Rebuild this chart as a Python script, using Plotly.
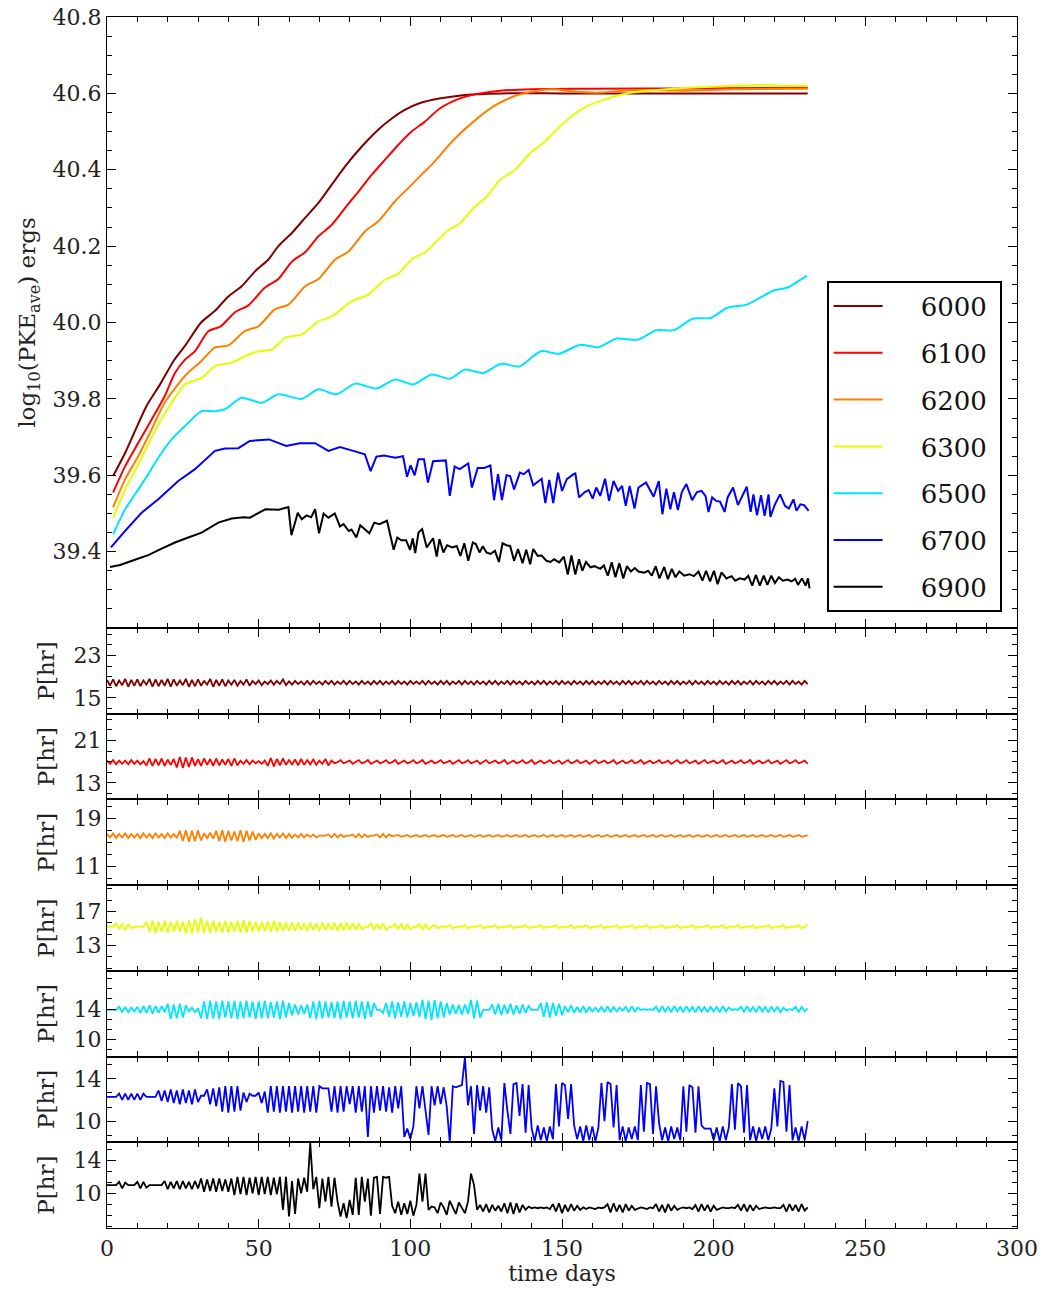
import plotly.graph_objects as go
from plotly.subplots import make_subplots

# ---------------- data ----------------
names = ["6000", "6100", "6200", "6300", "6500", "6700", "6900"]
colors = ["#800000", "#ff0000", "#ff8000", "#e2ff00", "#00e5ff", "#0000ff", "#000000"]

# top panel: log10(PKE_ave) [ergs] vs time [days]
t_6000 = [2, 6, 9, 13, 17.5, 22, 26, 31, 35.5, 40, 44.4, 48.8, 53.2, 56.5, 61, 65.3, 69.7, 74.1,
          78.5, 84, 89.4, 94, 98, 103, 110, 118, 130, 150, 180, 210, 231]
pke_6000 = [39.598, 39.659, 39.712, 39.781, 39.838, 39.900, 39.942, 40.000, 40.030, 40.068, 40.095,
            40.134, 40.165, 40.200, 40.235, 40.274, 40.313, 40.361, 40.409, 40.461, 40.505, 40.535,
            40.556, 40.574, 40.587, 40.596, 40.600, 40.600, 40.600, 40.600, 40.600]

t_6100 = [2, 6, 10.3, 14.7, 19, 22.4, 25.7, 29, 33.4, 37.5, 42.2, 46.6, 52, 56.5, 61, 65.3, 69.7,
          74.1, 78.5, 82.9, 87.3, 91.6, 96, 100.4, 104.8, 109.8, 116.4, 123, 129.6, 140, 160, 190, 231]
pke_6100 = [39.555, 39.624, 39.685, 39.746, 39.807, 39.868, 39.903, 39.925, 39.977, 39.990, 40.027,
            40.045, 40.091, 40.114, 40.160, 40.184, 40.226, 40.256, 40.300, 40.343, 40.387, 40.426,
            40.465, 40.500, 40.526, 40.561, 40.587, 40.600, 40.607, 40.611, 40.612, 40.613, 40.615]

t_6200 = [2, 6, 10.3, 14.7, 19, 25.7, 31.2, 35.6, 40, 45.5, 49.9, 55.4, 59.8, 65.3, 69.7, 75.2, 79.6,
          85.1, 89.4, 94.9, 99.3, 104.8, 107.6, 114.2, 120.8, 127.4, 134, 140.5, 147, 153.7, 162.5,
          173.5, 190, 206.5, 231]
pke_6200 = [39.516, 39.590, 39.650, 39.720, 39.790, 39.860, 39.900, 39.935, 39.940, 39.978, 39.990,
            40.035, 40.047, 40.095, 40.114, 40.165, 40.186, 40.239, 40.265, 40.317, 40.352, 40.396,
            40.418, 40.478, 40.526, 40.566, 40.592, 40.605, 40.611, 40.605, 40.602, 40.609, 40.607,
            40.611, 40.612]

t_6300 = [2, 6, 10.3, 16.9, 21.3, 25.7, 31.2, 35.6, 41.1, 45.5, 49.9, 54.3, 58.7, 64.2, 69.7, 74.1,
          80.7, 86.1, 91.6, 96, 100.4, 104.8, 106.5, 112, 116.4, 120.8, 125.2, 129.6, 134.5, 139.5,
          143.8, 149.3, 153.7, 158.1, 163.6, 169.1, 175.7, 184.5, 195.5, 206.5, 217.5, 224, 231]
pke_6300 = [39.489, 39.563, 39.629, 39.733, 39.790, 39.838, 39.855, 39.886, 39.895, 39.912, 39.925,
            39.929, 39.960, 39.969, 40.003, 40.016, 40.056, 40.073, 40.112, 40.128, 40.165, 40.184,
            40.195, 40.239, 40.260, 40.300, 40.330, 40.374, 40.400, 40.444, 40.470, 40.513, 40.544,
            40.566, 40.583, 40.596, 40.605, 40.611, 40.616, 40.620, 40.622, 40.620, 40.620]

t_6500 = [2, 6, 10.3, 13.6, 16.9, 21.3, 25.7, 31.2, 35.6, 38.9, 44.4, 51, 56.5, 64.2, 69.7, 75.7,
          81.8, 88.9, 94.9, 101, 107, 113.1, 118, 124, 130, 136, 143, 149, 156, 162, 168, 175, 181,
          187, 193, 199, 204.3, 210.9, 215.3, 219.7, 224.1, 230.7]
pke_6500 = [39.446, 39.511, 39.563, 39.603, 39.646, 39.694, 39.729, 39.768, 39.768, 39.773, 39.803,
            39.790, 39.812, 39.800, 39.825, 39.812, 39.840, 39.827, 39.851, 39.838, 39.864, 39.853,
            39.877, 39.868, 39.892, 39.885, 39.925, 39.918, 39.942, 39.935, 39.958, 39.955, 39.980,
            39.980, 40.010, 40.012, 40.038, 40.047, 40.065, 40.084, 40.091, 40.123]

t_6700 = [1.3, 5.9, 11.4, 16.9, 23.5, 29.0, 35.6, 38.9, 43.3,
          47.1, 53.4, 59.1, 63.5, 68.6, 73.0, 76.8, 81.2, 85.0, 86.9,
          88.8, 91.3, 95.1, 97.6, 98.9, 100.1, 101.4, 102.7, 104.5, 105.8,
          107.5, 111.7, 113.0, 114.6, 116.3, 119.1, 120.3, 122.2, 124.4, 126.4,
          127.6, 128.9, 130.2, 131.7, 132.9, 134.2, 136.1, 137.4, 139.0, 140.5,
          141.8, 143.3, 144.5, 145.8, 147.1, 148.7, 150.0, 151.6, 153.8, 154.4,
          155.6, 157.5, 158.8, 160.1, 161.3, 162.6, 164.2, 165.5, 167.0, 168.5,
          169.8, 171.0, 172.3, 173.9, 175.2, 177.7, 180.2, 181.9, 183.1, 184.4,
          185.7, 186.9, 188.2, 189.5, 191.0, 192.9, 194.5, 196.0, 197.3, 198.3,
          199.5, 200.8, 202.1, 203.6, 204.6, 206.4, 208.0, 210.9, 212.2, 213.1,
          214.3, 215.6, 216.8, 218.1, 218.7, 220.2, 221.9, 223.5, 224.8, 226.3,
          227.3, 228.6, 229.8, 231.3]
pke_6700 = [39.411, 39.454, 39.502, 39.537, 39.585, 39.616, 39.664, 39.670, 39.671,
            39.690, 39.694, 39.677, 39.684, 39.684, 39.664, 39.674, 39.664, 39.655, 39.611,
            39.649, 39.652, 39.646, 39.650, 39.596, 39.626, 39.600, 39.642, 39.642, 39.581,
            39.637, 39.639, 39.546, 39.623, 39.616, 39.631, 39.568, 39.619, 39.619, 39.626,
            39.535, 39.603, 39.535, 39.600, 39.598, 39.563, 39.607, 39.603, 39.614, 39.574,
            39.583, 39.591, 39.527, 39.588, 39.527, 39.607, 39.559, 39.590, 39.603, 39.605,
            39.542, 39.556, 39.561, 39.539, 39.568, 39.546, 39.591, 39.533, 39.585, 39.559,
            39.572, 39.520, 39.572, 39.513, 39.568, 39.581, 39.544, 39.585, 39.498, 39.565,
            39.511, 39.556, 39.509, 39.556, 39.577, 39.535, 39.556, 39.559, 39.546, 39.504,
            39.542, 39.533, 39.531, 39.504, 39.542, 39.568, 39.522, 39.570, 39.504, 39.550,
            39.495, 39.548, 39.494, 39.550, 39.491, 39.524, 39.550, 39.520, 39.513, 39.537,
            39.507, 39.524, 39.522, 39.507]

t_6900 = [1.0, 4.3, 9.2, 13.6, 18.0, 22.4, 26.8, 31.2, 36.7, 41.1, 45.0,
          47.1, 52.2, 56.6, 59.8, 60.8, 62.9, 64.2, 65.8, 67.3, 68.6,
          69.9, 71.4, 73.0, 75.1, 76.8, 78.0, 79.7, 80.6, 82.2, 83.5,
          85.0, 86.5, 88.1, 89.8, 92.3, 94.5, 95.7, 97.0, 98.6, 99.9,
          100.8, 101.6, 102.7, 103.9, 105.4, 107.5, 108.7, 109.6, 110.9, 112.1,
          113.8, 115.3, 116.5, 117.8, 119.1, 120.6, 121.6, 122.8, 123.9, 125.1,
          126.4, 127.9, 129.2, 130.4, 131.7, 132.9, 134.2, 135.5, 137.0, 138.2,
          139.5, 140.5, 142.0, 143.3, 144.9, 146.2, 147.4, 149.1, 150.6, 151.9,
          153.1, 154.4, 155.6, 156.7, 157.9, 159.4, 160.7, 162.6, 163.8, 165.1,
          166.4, 167.6, 168.9, 170.2, 171.4, 172.7, 174.0, 175.2, 177.1, 178.4,
          179.6, 180.9, 182.1, 183.7, 184.9, 186.2, 187.4, 188.7, 190.3, 192.0,
          193.5, 195.0, 196.3, 197.5, 198.8, 200.1, 201.3, 202.6, 204.2, 205.9,
          207.1, 208.6, 210.2, 211.4, 212.7, 213.9, 215.2, 216.5, 217.7, 219.0,
          220.2, 221.5, 222.8, 224.4, 225.7, 226.9, 227.8, 229.1, 230.3, 231.1,
          231.6]
pke_6900 = [39.360, 39.365, 39.379, 39.391, 39.408, 39.424, 39.437, 39.450, 39.476, 39.487, 39.490,
            39.489, 39.511, 39.510, 39.517, 39.443, 39.502, 39.485, 39.495, 39.490, 39.511,
            39.448, 39.500, 39.489, 39.500, 39.466, 39.472, 39.454, 39.458, 39.437, 39.469,
            39.458, 39.448, 39.476, 39.472, 39.481, 39.405, 39.437, 39.430, 39.430, 39.405,
            39.435, 39.396, 39.450, 39.459, 39.411, 39.435, 39.387, 39.433, 39.398, 39.417,
            39.411, 39.415, 39.389, 39.422, 39.376, 39.424, 39.420, 39.398, 39.414, 39.398,
            39.394, 39.402, 39.373, 39.422, 39.417, 39.415, 39.376, 39.407, 39.370, 39.405,
            39.367, 39.407, 39.389, 39.390, 39.376, 39.373, 39.380, 39.372, 39.387, 39.340,
            39.390, 39.340, 39.380, 39.350, 39.373, 39.359, 39.362, 39.355, 39.364, 39.337,
            39.372, 39.333, 39.370, 39.330, 39.362, 39.348, 39.357, 39.348, 39.345, 39.350,
            39.337, 39.362, 39.330, 39.360, 39.328, 39.355, 39.333, 39.348, 39.337, 39.341,
            39.336, 39.348, 39.324, 39.350, 39.322, 39.350, 39.315, 39.346, 39.330, 39.336,
            39.324, 39.330, 39.327, 39.337, 39.311, 39.339, 39.311, 39.337, 39.313, 39.337,
            39.318, 39.333, 39.324, 39.327, 39.322, 39.329, 39.313, 39.330, 39.311, 39.330,
            39.304]

# lower panels: period P [hr], one sample per day starting at day 0
p_6000 = [18.4, 17.3, 18.5, 17.2, 18.3, 17.4, 18.6, 17.1, 18.4, 17.3, 18.5, 17.2, 18.3, 17.5, 18.6, 17.1, 18.5, 17.2, 18.4, 17.3,
          18.6, 17.1, 18.5, 17.3, 18.3, 17.4, 18.6, 17.1, 18.4, 17.2, 18.5, 17.3, 18.2, 17.5, 18.6, 17.1, 18.4, 17.3, 18.5, 17.2,
          18.3, 17.5, 18.4, 17.3, 18.2, 17.5, 18.5, 17.3, 18.2, 17.6, 18.3, 17.4, 18.1, 17.6, 18.3, 17.5, 18.2, 17.6, 18.5, 17.4, 18.1,
          17.5, 18.2, 17.6, 18.1, 17.5, 18.2, 17.5, 18.2, 17.6, 18.1, 17.5, 18.2, 17.6, 18.2, 17.5, 18.1, 17.6, 18.2, 17.5, 18.2,
          17.6, 18.1, 17.5, 18.2, 17.6, 18.1, 17.5, 18.2, 17.6, 18.2, 17.5, 18.1, 17.6, 18.2, 17.5, 18.2, 17.6, 18.1, 17.5, 18.2,
          17.6, 18.1, 17.6, 18.2, 17.5, 18.2, 17.6, 18.1, 17.5, 18.2, 17.6, 18.2, 17.5, 18.1, 17.6, 18.2, 17.5, 18.2, 17.6, 18.1,
          17.5, 18.2, 17.6, 18.1, 17.5, 18.2, 17.6, 18.2, 17.5, 18.1, 17.6, 18.2, 17.5, 18.2, 17.6, 18.1, 17.5, 18.2, 17.6, 18.1,
          17.5, 18.2, 17.6, 18.2, 17.5, 18.1, 17.6, 18.2, 17.5, 18.2, 17.6, 18.1, 17.5, 18.2, 17.6, 18.1, 17.5, 18.2, 17.6, 18.2,
          17.5, 18.1, 17.6, 18.2, 17.5, 18.2, 17.6, 18.1, 17.5, 18.2, 17.6, 18.2, 17.5, 18.1, 17.6, 18.2, 17.5, 18.2, 17.6, 18.1,
          17.5, 18.2, 17.6, 18.1, 17.5, 18.2, 17.6, 18.2, 17.5, 18.1, 17.6, 18.2, 17.5, 18.2, 17.6, 18.1, 17.5, 18.2, 17.6, 18.1,
          17.5, 18.2, 17.6, 18.1, 17.5, 18.2, 17.6, 18.2, 17.5, 18.1, 17.6, 18.2, 17.5, 18.2, 17.6, 18.1,
          17.5, 18.2, 17.6, 18.2, 17.5, 18.1, 17.6, 18.2, 17.5, 18.2, 17.6, 18.1, 17.5, 18.2, 17.6]

p_6100 = [17.2, 16.6, 17.3, 16.5, 17.2, 16.6, 17.2, 16.5, 17.3, 16.6, 17.2, 16.5, 17.1,
          16.3, 17.6, 16.2, 17.5, 16.3, 17.6, 16.2, 17.4, 16.4, 17.5,
          15.9, 17.9, 15.8, 17.8, 16.0, 17.8, 16.2,
          17.5, 16.2, 17.6, 16.4, 17.5, 16.2, 17.6, 16.3, 17.4, 16.4, 17.5, 16.2, 17.6, 16.3,
          17.2, 16.6, 17.3, 16.5, 17.2, 16.7, 17.1, 16.6, 17.2,
          16.2, 17.7, 16.1, 17.5, 16.3, 17.6,
          16.4, 17.3, 16.5, 17.4, 16.3, 17.5, 16.4, 17.3, 16.5, 17.4, 16.4, 17.2, 16.6, 17.5, 16.3, 17.2, 16.7,
          16.9, 17.3, 16.7, 16.9, 17.2, 16.6, 16.9, 17.3, 16.7, 16.9, 17.3, 16.6, 16.9, 17.2, 16.7, 16.9, 17.3, 16.7,
          16.9, 17.3, 16.6, 16.9, 17.2, 16.7, 16.9, 17.3, 16.7, 16.9, 17.3, 16.6, 16.9, 17.2, 16.7, 16.9, 17.3, 16.7,
          16.9, 17.2, 16.6, 16.9, 17.3, 16.7, 16.9, 17.3, 16.7, 16.9, 17.2, 16.6, 16.9, 17.3, 16.7, 16.9, 17.2, 16.7,
          16.9, 17.3, 16.6, 16.9, 17.2, 16.7, 16.9, 17.3, 16.7, 16.9, 17.3, 16.6, 16.9, 17.2, 16.7, 16.9, 17.3, 16.7,
          16.9, 17.2, 16.6, 16.9, 17.3, 16.7, 16.9, 17.3, 16.7, 16.9, 17.2, 16.6, 16.9, 17.3, 16.7, 16.9, 17.2, 16.7,
          16.9, 17.3, 16.6, 16.9, 17.2, 16.7, 16.9, 17.3, 16.7, 16.9, 17.3, 16.6, 16.9, 17.2, 16.7, 16.9, 17.3, 16.7,
          16.9, 17.2, 16.6, 16.9, 17.3, 16.7, 16.9, 17.3, 16.7, 16.9, 17.2, 16.6, 16.9, 17.3, 16.7, 16.9, 17.2, 16.7,
          16.9, 17.3, 16.6, 16.9, 17.2, 16.7, 16.9, 17.3, 16.7, 16.9, 17.3, 16.6, 16.9, 17.2, 16.7, 16.9, 17.3, 16.7,
          16.9, 17.2, 16.6, 16.9, 17.3, 16.7, 16.9, 17.3, 16.7, 16.9, 17.2, 16.6]

p_6200 = [16.4, 15.8, 16.5, 15.7, 16.4, 15.8, 16.5, 15.7, 16.4, 15.8, 16.4, 15.7, 16.5, 15.8, 16.4, 15.7, 16.5, 15.8, 16.4, 15.7, 16.5, 15.8, 16.4, 15.7,
          16.9, 15.2, 17.0, 15.1, 16.9, 15.2, 17.0, 15.3,
          16.5, 15.7, 16.6, 15.6,
          16.9, 15.2, 17.0, 15.1, 16.9, 15.3, 16.8, 15.2, 17.0, 15.1, 16.9, 15.3, 16.8, 15.4,
          16.5, 15.7, 16.4, 15.7, 16.5, 15.6, 16.4, 15.8, 16.5, 15.7, 16.4, 15.7,
          16.3, 15.8, 16.4, 15.8, 16.3, 15.9, 16.3, 15.8, 16.1, 16.1, 16.1, 16.3, 15.8, 16.4, 15.8, 16.3, 15.9,
          16.1, 16.1, 16.3, 15.8, 16.4, 15.8, 16.3, 15.9, 16.1, 16.1, 16.3, 15.8, 16.4, 15.8, 16.3, 16.0,
          16.1, 16.2, 15.9, 16.1, 16.2, 15.9, 16.1, 16.2, 15.9, 16.1, 16.2, 15.9, 16.1, 16.2, 15.9,
          16.1, 16.2, 15.9, 16.1, 16.2, 15.9, 16.1, 16.2, 15.9, 16.1, 16.2, 15.9, 16.1, 16.2, 15.9,
          16.1, 16.2, 15.9, 16.1, 16.2, 15.9, 16.1, 16.2, 15.9, 16.1, 16.2, 15.9, 16.1, 16.2, 15.9,
          16.1, 16.2, 15.9, 16.1, 16.2, 15.9, 16.1, 16.2, 15.9, 16.1, 16.2, 15.9, 16.1, 16.2, 15.9,
          16.1, 16.2, 15.9, 16.1, 16.2, 15.9, 16.1, 16.2, 15.9, 16.1, 16.2, 15.9, 16.1, 16.2, 15.9,
          16.1, 16.2, 15.9, 16.1, 16.2, 15.9, 16.1, 16.2, 15.9, 16.1, 16.2, 15.9, 16.1, 16.2, 15.9,
          16.1, 16.2, 15.9, 16.1, 16.2, 15.9, 16.1, 16.2, 15.9, 16.1, 16.2, 15.9, 16.1, 16.2, 15.9,
          16.1, 16.2, 15.9, 16.1, 16.2, 15.9, 16.1, 16.2, 15.9, 16.1, 16.2, 15.9, 16.1, 16.2, 15.9,
          16.1, 16.2, 15.9, 16.1, 16.2, 15.9, 16.1, 16.2, 15.9, 16.1, 16.2, 15.9, 16.1, 16.2, 15.9,
          16.1, 16.2]

p_6300 = [15.2, 15.2, 15.2,
          15.6, 14.9, 15.6, 14.8, 15.5, 15.0,
          15.2, 15.2, 15.2, 15.2,
          15.8, 14.6, 15.9, 14.5, 15.8, 14.6, 15.9, 14.5, 15.8, 14.6, 15.9, 14.6, 15.8,
          14.4, 16.0, 14.4, 16.1, 14.5, 16.3,
          14.5, 15.9, 14.5, 15.9, 14.6, 15.8, 14.5, 15.9, 14.5, 15.8, 14.6, 15.9, 14.5, 16.0, 14.5, 15.9, 14.6,
          15.8, 14.6, 15.8, 14.7, 15.8, 14.6, 15.9, 14.6, 15.8, 14.7, 15.7, 14.7,
          15.7, 14.7, 15.7, 14.8, 15.6, 14.7, 15.7, 14.8, 15.6, 14.7, 15.7, 14.8, 15.6, 14.8, 15.7, 14.7, 15.6, 14.8, 15.7, 14.8,
          15.6, 14.8, 15.6, 14.9, 15.2, 15.2, 15.6, 14.8, 15.5, 14.9, 15.6, 14.8, 15.2, 15.2, 15.5, 14.9, 15.6, 14.8, 15.5, 14.9,
          15.2, 15.2, 15.5, 14.9, 15.5, 14.9,
          15.2, 15.4, 15.0, 15.2, 15.2, 15.2, 15.4, 15.0, 15.2, 15.2, 15.2, 15.4, 15.0, 15.2, 15.2, 15.2, 15.4, 15.0, 15.2, 15.2,
          15.2, 15.4, 15.0, 15.2, 15.2, 15.2, 15.4, 15.0, 15.2, 15.2, 15.2, 15.4, 15.0, 15.2, 15.2, 15.2, 15.4, 15.0, 15.2, 15.2,
          15.2, 15.4, 15.0, 15.2, 15.2, 15.2, 15.4, 15.0, 15.2, 15.2, 15.2, 15.4, 15.0, 15.2, 15.2, 15.2, 15.4, 15.0, 15.2, 15.2,
          15.2, 15.4, 15.0, 15.2, 15.2, 15.2, 15.4, 15.0, 15.2, 15.2, 15.2, 15.4, 15.0, 15.2, 15.2, 15.2, 15.4, 15.0, 15.2, 15.2,
          15.2, 15.4, 15.0, 15.2, 15.2, 15.2, 15.4, 15.0, 15.2, 15.2, 15.2, 15.4, 15.0, 15.2, 15.2, 15.2, 15.4, 15.0, 15.2, 15.2,
          15.2, 15.4, 15.0, 15.2, 15.2, 15.2, 15.4, 15.0, 15.2, 15.2, 15.2, 15.4, 15.0, 15.2, 15.2, 15.2, 15.4, 15.0, 15.2, 15.2,
          15.2, 15.4, 15.0, 15.2, 15.5]

p_6500 = [13.9, 13.9, 13.9, 13.9,
          14.3, 13.6, 14.3, 13.6, 14.2, 13.7, 14.3,
          13.5, 14.4, 13.5, 14.5, 13.4, 14.4, 13.5, 14.4, 13.6,
          14.7, 12.7, 14.6, 12.8, 14.7, 12.9, 14.5,
          13.7, 14.2, 13.6, 14.1,
          12.8, 15.0, 12.7, 15.1, 12.8, 15.0, 12.7, 15.1, 12.9, 15.0, 12.8, 15.1, 12.7, 15.0, 12.8, 15.1, 12.9, 15.0, 12.7, 15.0,
          12.8, 15.1, 12.8, 14.9, 12.9, 15.0, 12.7, 15.1, 12.9, 14.8,
          13.2, 14.6, 13.3, 14.5, 13.4, 14.6,
          12.8, 15.0, 12.7, 15.1, 12.8, 15.0, 12.9, 14.9, 12.8, 15.0, 12.7, 15.1, 12.9, 15.0,
          12.8, 15.1, 12.9, 15.0, 12.7, 15.0, 13.0, 14.8,
          13.9, 13.9,
          13.5, 14.8, 13.0, 15.0, 12.8, 14.9, 13.0, 15.0, 12.9, 14.8, 13.1, 14.9, 13.0,
          15.2, 12.7, 15.1, 12.6, 15.2, 12.8, 15.0, 12.9, 14.8,
          13.3, 14.6, 13.4, 14.5, 13.3, 14.6, 13.4,
          15.2, 12.8, 15.1, 12.9,
          13.9, 13.9, 13.9,
          14.6, 13.3, 14.7, 13.2, 14.6, 13.4, 14.7, 13.3, 14.5, 13.4, 14.6, 13.5, 14.4,
          13.9, 13.9, 13.9,
          14.8, 13.0, 14.9, 12.9, 14.8, 13.1, 14.7, 13.2,
          14.4, 13.6, 14.5, 13.5, 14.3, 13.6, 14.4, 13.5, 14.3, 13.7, 14.2,
          13.7, 14.3, 13.6, 14.4, 13.6, 14.3, 13.7, 14.2, 13.8, 14.3, 13.6, 14.4, 13.7, 14.2,
          13.9, 14.0, 13.9, 14.0, 13.9,
          14.3, 13.6, 14.4, 13.7, 14.3, 13.6, 14.4, 13.7, 14.3, 13.6, 14.4, 13.7, 14.3, 13.6, 14.4, 13.7, 14.3, 13.6, 14.3,
          13.7, 14.3, 13.6, 14.4, 13.7, 14.2,
          13.9, 14.0, 13.9,
          14.3, 13.6, 14.4, 13.7, 14.3, 13.6, 14.4, 13.7, 14.3, 13.6, 14.3, 13.7, 14.3, 13.6, 14.2, 13.8,
          14.0, 13.9, 14.3, 13.6, 14.3, 13.7, 14.1]

p_6700 = [12.3, 12.3, 12.3, 12.3,
          12.6, 12.0, 12.6, 12.0, 12.6, 12.0, 12.6, 12.0, 12.6,
          12.3, 12.3, 12.3, 12.3,
          12.9, 11.9, 12.9, 11.8, 13.0, 11.7, 12.9, 11.6, 13.0, 11.7, 12.9, 11.6, 13.0, 11.8,
          12.4, 12.4,
          13.0, 11.6, 13.1, 11.4, 13.2,
          10.9, 13.3, 10.8, 13.3, 10.9, 13.3, 11.0,
          12.7, 11.8, 12.6, 12.4, 12.4, 12.7, 11.7, 12.8,
          10.8, 13.3, 10.9, 13.3, 10.8, 13.3, 10.9, 13.3, 10.8, 13.3, 10.9, 13.3, 10.8, 13.3, 10.9, 13.3, 10.8, 13.3,
          13.1, 13.1, 13.1,
          10.9, 13.3, 10.8, 13.3, 10.9, 13.3, 11.6, 13.3, 10.8, 13.3, 10.9, 13.3,
          8.5,
          13.3, 10.8, 13.3, 11.0, 13.3, 10.9, 13.2, 10.8, 13.3, 11.2, 13.3,
          8.5, 9.3, 8.3, 9.5,
          13.3, 11.2, 13.3, 11.0, 8.7,
          13.3, 11.5, 13.3, 11.6, 13.2, 11.4,
          8.0,
          13.3, 13.2, 13.3, 13.4,
          16.0,
          11.5, 13.3, 8.8, 13.4, 11.0, 13.3, 10.8, 13.2,
          9.2, 8.1, 9.4, 8.2,
          13.6, 11.0, 8.8, 13.5, 13.6, 10.5, 13.5, 8.9, 13.4,
          9.3, 8.1, 9.6, 8.2, 9.4, 8.1, 9.5, 8.3,
          13.5, 9.5, 13.6, 13.4, 10.2, 13.5, 9.6,
          8.3, 9.5, 8.1, 9.6, 8.2, 9.5, 8.1, 9.4,
          13.6, 10.0, 13.7, 13.5, 9.4, 13.4,
          8.2, 9.5, 8.1, 9.4, 8.3, 9.5, 8.2,
          13.4, 9.0, 13.6, 13.5, 8.8, 13.3, 9.8,
          8.2, 9.4, 8.1, 9.5, 8.3, 9.4, 8.2,
          13.3, 9.0, 13.4, 13.2, 8.9, 13.3, 9.6,
          9.3, 9.3, 9.3, 8.2, 9.4, 8.1, 9.5, 8.2, 9.4,
          13.5, 9.2, 13.6, 13.3, 8.9, 13.4,
          8.2, 9.5, 8.1, 9.4, 8.3, 9.5, 8.2, 9.3,
          13.1, 9.5, 13.8, 13.7, 9.0, 13.4,
          8.2, 9.4, 8.1, 9.5, 8.2, 10.0]

p_6900 = [11.0, 11.0, 11.0, 11.0,
          11.4, 10.6, 11.3,
          11.0, 11.0, 11.0,
          11.4, 10.6, 11.4, 10.7,
          11.0, 11.0, 11.0, 11.0, 11.0,
          11.5, 10.5, 11.4, 10.6, 11.5, 10.5, 11.5, 10.6, 11.4, 10.5, 11.5, 10.6,
          11.8, 10.2, 11.7, 10.3, 11.8, 10.2, 11.8, 10.3, 11.7, 10.2, 11.8,
          9.8, 12.0, 9.9, 12.0, 9.8, 11.9, 10.0, 12.0, 9.8, 12.0, 9.9, 12.0, 9.8, 11.9, 9.9, 12.0,
          8.0, 12.0, 7.2, 11.5, 7.5, 11.8,
          10.0, 11.9, 10.2,
          16.1,
          10.5, 12.0, 8.2, 11.8, 9.0, 12.0, 8.4, 11.9,
          9.0, 7.2, 8.8, 7.0, 9.2, 7.4,
          11.9, 7.4, 12.0, 9.0, 11.8, 7.3, 11.9, 12.0, 7.5, 12.0, 11.9, 12.0,
          8.5, 7.6, 9.0, 7.4, 8.8, 7.5, 9.1, 7.3, 8.6,
          12.4, 9.0, 12.4, 8.0,
          8.4, 8.3, 7.6, 8.9, 8.3, 7.4, 9.1, 8.3, 7.5, 8.9, 8.3, 7.6, 9.0,
          12.4, 11.0,
          8.0, 8.6, 7.8, 8.7, 7.7, 8.6, 7.9, 8.5, 7.8,
          8.8, 7.6, 8.9, 7.5, 8.8, 7.7, 8.6, 8.0, 8.4,
          8.2, 8.3, 8.2, 8.3, 8.2, 8.3, 8.1,
          8.7, 7.8, 8.8, 7.6, 8.6, 7.8, 8.7, 7.9, 8.5, 8.0,
          8.3, 8.1, 8.3, 8.2, 8.1, 8.3, 8.2, 8.3,
          8.7, 7.7, 8.8, 7.8, 8.6, 7.7, 8.7, 7.9, 8.5, 8.0,
          8.2, 8.3, 8.2, 8.1, 8.3, 8.2,
          8.7, 7.8, 8.6, 7.7, 8.7, 7.9, 8.5, 8.0,
          8.2, 8.3, 8.2, 8.3, 8.1,
          8.6, 7.8, 8.7, 7.9, 8.6, 7.8, 8.5, 8.0,
          8.2, 8.3, 8.2, 8.2, 8.3, 8.2,
          8.6, 7.9, 8.7, 7.8, 8.6, 7.9, 8.5, 8.1,
          8.2, 8.3, 8.2, 8.2, 8.3, 8.2, 8.2,
          8.6, 7.8, 8.7, 7.9, 8.6, 7.8, 8.7, 7.9, 8.3]

top_t = [t_6000, t_6100, t_6200, t_6300, t_6500, t_6700, t_6900]
top_v = [pke_6000, pke_6100, pke_6200, pke_6300, pke_6500, pke_6700, pke_6900]
sub_p = [p_6000, p_6100, p_6200, p_6300, p_6500, p_6700, p_6900]

# axis settings (ranges / ticks)
sub_ranges = [[12.0, 28.2], [9.9, 26.0], [7.9, 22.1], [10.0, 20.1], [7.8, 19.0], [8.0, 16.1], [5.8, 16.2]]
sub_ticks = [[15, 23], [13, 21], [11, 19], [13, 17], [10, 14], [10, 14], [10, 14]]
sub_minor = [2, 2, 2, 4 / 3, 4 / 3, 4 / 3, 4 / 3]
top_ticks = [39.4, 39.6, 39.8, 40.0, 40.2, 40.4, 40.6, 40.8]
x_ticks = [0, 50, 100, 150, 200, 250, 300]

# ---------------- figure ----------------
FONT = "DejaVu Serif"
TXT = "#222"
NB = "\u00a0"
fig = make_subplots(rows=8, cols=1, shared_xaxes=True, vertical_spacing=0,
                    row_heights=[611] + [85.7] * 7)

for i in range(7):
    smooth = i < 5
    n = min(len(top_t[i]), len(top_v[i]))
    fig.add_trace(go.Scatter(
        x=top_t[i][:n], y=top_v[i][:n], mode="lines",
        name=NB * 4 + names[i] + NB,
        legendgroup=names[i],
        line=dict(color=colors[i], width=2, shape="spline" if smooth else "linear",
                  smoothing=0.7 if smooth else None)),
        row=1, col=1)

for i in range(7):
    p = sub_p[i]
    fig.add_trace(go.Scatter(
        x=list(range(len(p))), y=p, mode="lines", showlegend=False,
        line=dict(color=colors[i], width=1.8)),
        row=i + 2, col=1)

common = dict(showline=True, linecolor="black", linewidth=1.4, mirror="allticks",
              ticks="inside", ticklen=9, tickwidth=1.3, tickcolor="black",
              showgrid=False, zeroline=False, automargin=False,
              tickfont=dict(family=FONT, size=22, color=TXT))

for r in range(1, 9):
    xa = "xaxis" if r == 1 else f"xaxis{r}"
    fig.layout[xa].update(
        range=[0, 300], tickvals=x_ticks, showticklabels=(r == 8),
        minor=dict(ticks="inside", ticklen=5, tickwidth=1.1, tickcolor="black",
                   tick0=0, dtick=10, showgrid=False),
        **common)

fig.layout["yaxis"].update(
    range=[39.2, 40.8], tickvals=top_ticks, tickformat=".1f",
    minor=dict(ticks="inside", ticklen=5, tickwidth=1.1, tickcolor="black",
               tick0=39.2, dtick=0.05, showgrid=False),
    title=dict(text="log<sub>10</sub>(PKE<sub>ave</sub>) ergs",
               font=dict(family=FONT, size=23, color=TXT), standoff=10),
    **common)

for i in range(7):
    ya = f"yaxis{i + 2}"
    fig.layout[ya].update(
        range=sub_ranges[i], tickvals=sub_ticks[i],
        minor=dict(ticks="inside", ticklen=5, tickwidth=1.1, tickcolor="black",
                   tick0=sub_ticks[i][0], dtick=sub_minor[i], showgrid=False),
        title=dict(text="P[hr]", font=dict(family=FONT, size=23, color=TXT), standoff=12),
        **common)

fig.layout["xaxis8"].update(
    title=dict(text="time days", font=dict(family=FONT, size=22, color=TXT), standoff=6))

fig.update_layout(
    width=1043, height=1295,
    margin=dict(l=107, r=26, t=17, b=67),
    paper_bgcolor="white", plot_bgcolor="white",
    font=dict(family=FONT, size=22, color=TXT),
    showlegend=True,
    legend=dict(
        x=(1002 - 107) / 910, xanchor="right", y=(1228 - 612) / 1211, yanchor="bottom",
        bgcolor="white", bordercolor="black", borderwidth=1.6,
        font=dict(family=FONT, size=26, color="#111"),
        traceorder="grouped", tracegroupgap=10, itemwidth=49,
    ),
)

fig.write_html("out.html")
